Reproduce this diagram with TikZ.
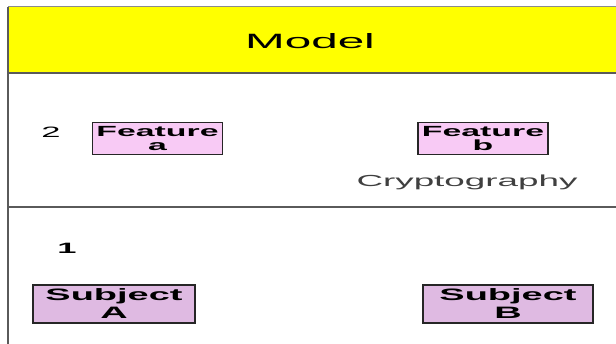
\documentclass[tikz,border=0pt]{standalone}
\usepackage{fontspec}
\newfontfamily\widesans[FakeStretch=2.3]{Liberation Sans}
\definecolor{bandyellow}{RGB}{255,255,0}
\definecolor{featpink}{RGB}{248,202,245}
\definecolor{subjpink}{RGB}{223,186,226}
\definecolor{rulegray}{RGB}{90,90,90}

\begin{document}
\begin{tikzpicture}[
    x=1pt, y=1pt,
    title/.style={inner sep=0pt, font=\widesans\fontsize{20.7}{22}\selectfont},
    level/.style={inner sep=0pt, font=\widesans\fontsize{15}{16}\selectfont},
    feature/.style={rectangle, draw=black!85, line width=1.4pt, fill=featpink,
        inner sep=0pt, align=center, minimum height=32pt,
        font=\widesans\bfseries\fontsize{14.7}{14}\selectfont},
    subject/.style={rectangle, draw=black!85, line width=1.4pt, fill=subjpink,
        inner sep=0pt, align=center, minimum height=38pt,
        font=\widesans\bfseries\fontsize{16.5}{18}\selectfont},
    note/.style={inner sep=0pt, text=black!75, font=\widesans\fontsize{16}{18}\selectfont},
    rule/.style={draw=rulegray, line width=1.6pt}
]
    \useasboundingbox (0,0) rectangle (616,344);
    \fill[white] (0,0) rectangle (616,344);
    \fill[bandyellow] (8,337) rectangle (616,271);
    \draw[draw=rulegray!70, line width=1pt] (8,337) -- (616,337);
    \draw[rule] (8,271) -- (616,271);
    \draw[rule] (8,137) -- (616,137);
    \draw[rule] (8,337) -- (8,0);

    \node[title] (model) at (310,302.4) {Model};

    \node[level] (two) at (51,212) {2};
    \node[feature, minimum width=130pt] (feata) at (157.5,205.5) {Feature\\a};
    \node[feature, minimum width=130pt] (featb) at (483,205.5) {Feature\\b};
    \node[note] (crypto) at (467,162) {Cryptography};

    \node[level, font=\widesans\bfseries\fontsize{15}{16}\selectfont] (one) at (67,96) {1};
    \node[subject, minimum width=162pt] (subja) at (114,40) {Subject\\A};
    \node[subject, minimum width=170pt] (subjb) at (508,40) {Subject\\B};
\end{tikzpicture}
\end{document}
